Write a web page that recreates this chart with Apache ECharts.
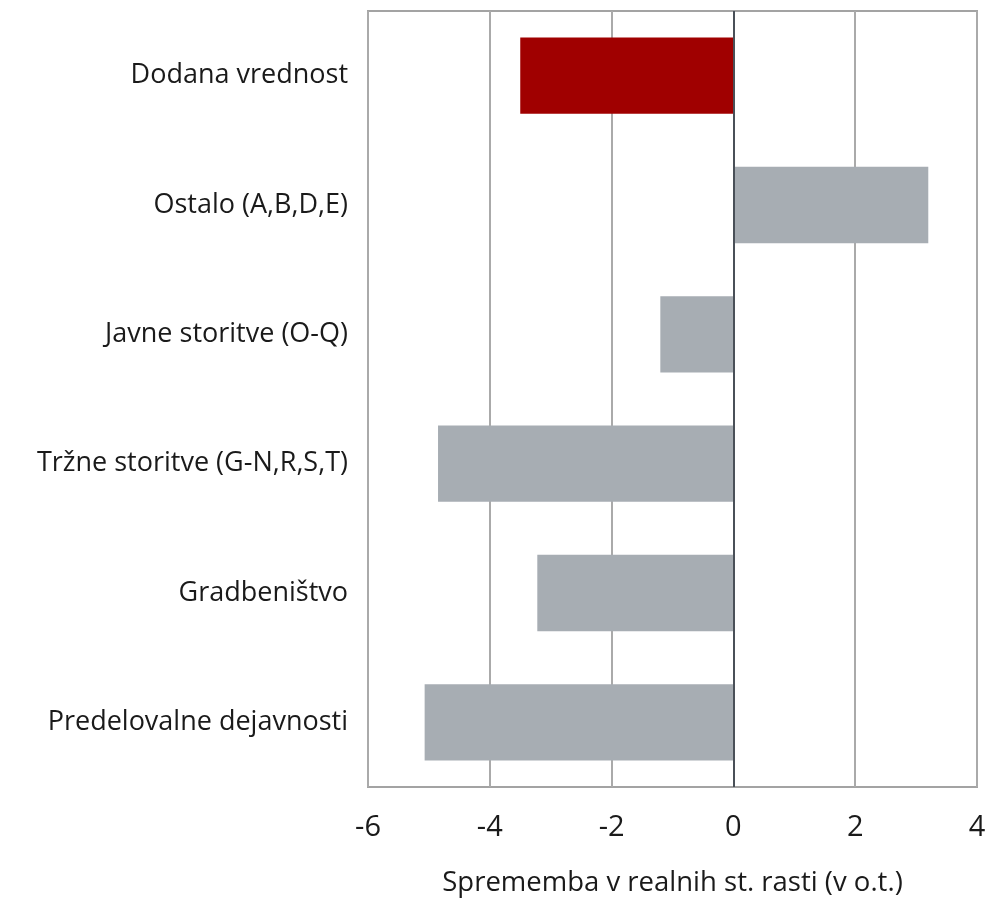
<!DOCTYPE html>
<html>
<head>
<meta charset="utf-8">
<script src="https://cdn.jsdelivr.net/npm/echarts@6/dist/echarts.min.js"></script>
<style>
  html, body { margin: 0; padding: 0; background: #fff; }
  #chart { width: 989px; height: 899px; }
</style>
</head>
<body>
<div id="chart"></div>
<script>
// categories top -> bottom
const categories = [
  "Dodana vrednost",
  "Ostalo (A,B,D,E)",
  "Javne storitve (O-Q)",
  "Tržne storitve (G-N,R,S,T)",
  "Gradbeništvo",
  "Predelovalne dejavnosti"
];
const values = [-3.5, 3.2, -1.2, -4.85, -3.22, -5.07];
const xTicks = { min: -6, max: 4, interval: 2 };
const xTitle = "Sprememba v realnih st. rasti (v o.t.)";

const font = "'Open Sans', 'Noto Sans', sans-serif";
const chart = echarts.init(document.getElementById("chart"));

chart.setOption({
  animation: false,
  grid: {
    left: 368, right: 12, top: 11, bottom: 112,
    show: true, borderColor: "#a3a3a3", borderWidth: 2,
    containLabel: false, outerBoundsMode: "none"
  },
  xAxis: {
    type: "value",
    min: xTicks.min, max: xTicks.max, interval: xTicks.interval,
    axisLine: { show: false },
    axisTick: { show: false },
    splitLine: { show: true, lineStyle: { color: "#aaaaaa", width: 2 } },
    axisLabel: { color: "#1a1a1a", fontSize: 29, fontFamily: font, margin: 26 },
    name: xTitle,
    nameLocation: "middle",
    nameGap: 82,
    nameTextStyle: { color: "#1a1a1a", fontSize: 27.5, fontFamily: font }
  },
  yAxis: {
    type: "category",
    inverse: true,
    data: categories,
    axisLine: { show: false },
    axisTick: { show: false },
    splitLine: { show: false },
    axisLabel: { color: "#1a1a1a", fontSize: 27, fontFamily: font, margin: 20 }
  },
  series: [{
    type: "bar",
    barWidth: "59%",
    data: values.map((v, i) => ({
      value: v,
      itemStyle: { color: i === 0 ? "#a00000" : "#a7adb3" }
    })),
    markLine: {
      silent: true,
      symbol: "none",
      label: { show: false },
      lineStyle: { color: "#4a5058", width: 2, type: "solid" },
      data: [{ xAxis: 0 }]
    }
  }]
});
</script>
</body>
</html>
